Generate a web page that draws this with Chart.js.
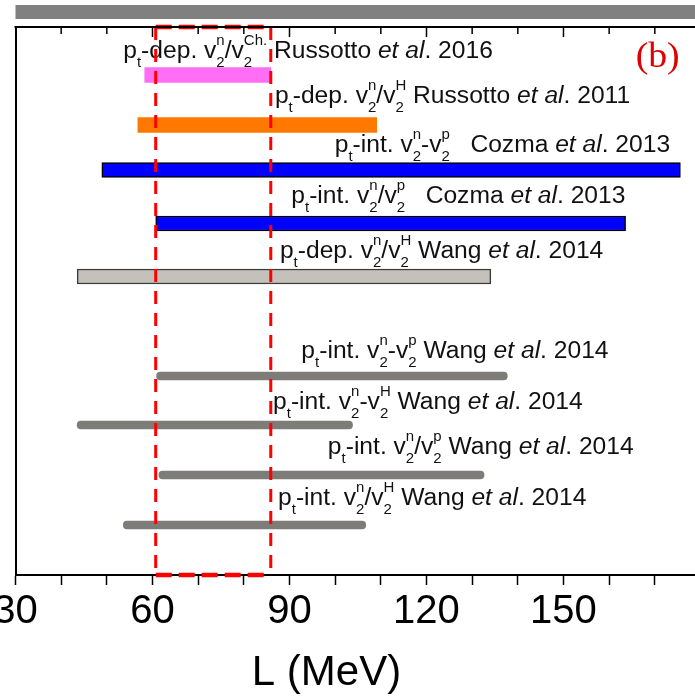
<!DOCTYPE html>
<html lang="en">
<head>
  <meta charset="UTF-8">
  <title>L (MeV) constraints</title>
  <script src="https://cdn.jsdelivr.net/npm/chart.js"></script>
  <style>
    body {
      margin: 0;
      background: #fff;
    }
    .wrap {
      width: 695px;
      height: 697px;
    }
  </style>
</head>
<body>
  <div class="wrap"><canvas id="chart"></canvas></div>

  <script>
    // thick bands, one per row (L in MeV)
    const bandRows = [1, 2, 2.9, 3.97, 5.03];
    const bandLow = [58.3, 56.8, 48.9, 60.7, 43.5];
    const bandHigh = [85.9, 109.1, 175.6, 163.6, 134.1];
    // thin grey bars (Wang et al. 2014)
    const barRows = [7.02, 8, 9, 10];
    const barLow = [60.9, 43.5, 61.4, 53.6];
    const barHigh = [137.7, 103.8, 132.6, 106.7];
    // red dashed box
    const boxLow = 60.7;
    const boxHigh = 85.9;
    const xTicks = [30, 60, 90, 120, 150];

    // label text, one entry per row
    const kinds = ['dep', 'dep', 'int', 'int', 'dep', 'int', 'int', 'int', 'int'];
    const ops = ['/', '/', '-', '/', '/', '-', '-', '/', '/'];
    const refs = ['Ch.', 'H', 'p', 'p', 'H', 'p', 'H', 'p', 'H'];
    const authors = ['Russotto', 'Russotto', 'Cozma', 'Cozma', 'Wang', 'Wang', 'Wang', 'Wang', 'Wang'];
    const years = ['2016', '2011', '2013', '2013', '2014', '2014', '2014', '2014', '2014'];

    // where the labels sit (axis units), kept apart from the data
    const labelAtX = [53.6, 86.8, 99.9, 90.4, 87.9, 92.6, 86.4, 98.4, 87.5];
    const labelAtY = [0.654, 1.566, 2.534, 3.56, 4.654, 6.666, 7.686, 8.58, 9.6];
    const labelGap = [' ', ' ', '   ', '   ', ' ', ' ', ' ', ' ', ' '];

    const yMin = 0.04, yMax = 11;
    const xMin = 30, xMax = 178.8;

    const MAIN = '23px "Liberation Sans"';
    const SCRIPT = '14px "Liberation Sans"';
    const STRETCH = 1.07;

    function drawLabel(ctx, x, y, i) {
      const segs = [
        { t: 'p' }, { sub: 't' }, { t: '-' + kinds[i] + '. v' }, { sup: 'n', sub: '2' },
        { t: ops[i] + 'v' }, { sup: refs[i], sub: '2' },
        { t: labelGap[i] + authors[i] + ' ' }, { t: 'et al', italic: true }, { t: '. ' + years[i] }
      ];
      ctx.save();
      ctx.translate(x, y);
      ctx.scale(STRETCH, 1);
      ctx.fillStyle = '#111';
      ctx.textAlign = 'left';
      ctx.textBaseline = 'alphabetic';
      let cx = 0;
      segs.forEach(s => {
        if (s.t !== undefined) {
          ctx.font = (s.italic ? 'italic ' : '') + MAIN;
          ctx.fillText(s.t, cx, 0);
          cx += ctx.measureText(s.t).width;
        } else {
          ctx.font = SCRIPT;
          let w = 0;
          if (s.sup) {
            ctx.fillText(s.sup, cx, -13);
            w = ctx.measureText(s.sup).width;
          }
          if (s.sub) {
            ctx.fillText(s.sub, cx, 9);
            w = Math.max(w, ctx.measureText(s.sub).width);
          }
          cx += w;
        }
      });
      ctx.restore();
    }

    const decor = {
      id: 'decor',
      beforeDraw(chart) {
        const { ctx, chartArea } = chart;
        // grey strip left over from the panel above
        ctx.save();
        ctx.fillStyle = '#808080';
        ctx.fillRect(chartArea.left, chartArea.top - 22, chart.width - chartArea.left, 14);
        ctx.restore();
      },
      beforeDatasetsDraw(chart) {
        const { ctx } = chart;
        const xs = chart.scales.x, ys = chart.scales.y;
        kinds.forEach((k, i) => {
          drawLabel(ctx, xs.getPixelForValue(labelAtX[i]), ys.getPixelForValue(labelAtY[i]), i);
        });
        // panel tag
        ctx.save();
        ctx.translate(xs.getPixelForValue(165.8), ys.getPixelForValue(0.834));
        ctx.scale(1.05, 1);
        ctx.font = '36px "Liberation Serif"';
        ctx.fillStyle = '#e00000';
        ctx.textBaseline = 'alphabetic';
        ctx.fillText('(b)', 0, 0);
        ctx.restore();
        // axis title
        ctx.save();
        ctx.font = '42px "Liberation Sans"';
        ctx.fillStyle = '#000';
        ctx.textAlign = 'center';
        ctx.textBaseline = 'alphabetic';
        ctx.fillText('L (MeV)', xs.getPixelForValue(98.1), chart.height - 12);
        ctx.restore();
      },
      afterDraw(chart) {
        const { ctx, chartArea } = chart;
        const xs = chart.scales.x;
        ctx.save();
        ctx.strokeStyle = '#000';
        ctx.lineWidth = 2;
        ctx.beginPath();
        ctx.moveTo(chartArea.left - 1, chartArea.top);
        ctx.lineTo(chartArea.right, chartArea.top);
        ctx.stroke();
        ctx.lineWidth = 1.5;
        for (let v = xMin + 10; v < xMax; v += 10) {
          const px = xs.getPixelForValue(v);
          const len = v % 30 === 0 ? 10 : 7;
          ctx.beginPath();
          ctx.moveTo(px, chartArea.top);
          ctx.lineTo(px, chartArea.top + len);
          ctx.stroke();
        }
        ctx.restore();
      }
    };

    document.addEventListener('DOMContentLoaded', function() {
      const ctx = document.getElementById('chart').getContext('2d');

      new Chart(ctx, {
        type: 'bar',
        data: {
          datasets: [
            {
              type: 'line',
              order: 0,
              data: [
                { x: boxLow, y: yMin }, { x: boxLow, y: yMax }, { x: null, y: null },
                { x: boxHigh, y: yMin }, { x: boxHigh, y: yMax }
              ],
              borderColor: '#ff0000',
              borderWidth: 3,
              borderDash: [13, 9],
              pointRadius: 0,
              clip: false
            },
            {
              type: 'line',
              order: 0,
              data: [
                { x: boxLow, y: yMin }, { x: boxHigh, y: yMin }, { x: null, y: null },
                { x: boxLow, y: yMax }, { x: boxHigh, y: yMax }
              ],
              borderColor: '#ff0000',
              borderWidth: 4.5,
              borderDash: [16, 7],
              pointRadius: 0,
              clip: false
            },
            {
              order: 1,
              data: bandRows.map((r, i) => ({ x: [bandLow[i], bandHigh[i]], y: r })),
              backgroundColor: ['#ff6ef5', '#ff7800', '#0000ff', '#0000ff', '#c4c1bb'],
              borderColor: ['#ff6ef5', '#ff7800', '#000', '#000', '#3a3a3a'],
              borderWidth: [0, 0, 1.5, 1.5, 1.5],
              borderSkipped: false,
              barThickness: 15,
              grouped: false
            },
            {
              order: 1,
              data: barRows.map((r, i) => ({ x: [barLow[i], barHigh[i]], y: r })),
              backgroundColor: '#7d7c78',
              borderWidth: 0,
              borderRadius: 4,
              borderSkipped: false,
              barThickness: 8,
              grouped: false
            }
          ]
        },
        options: {
          indexAxis: 'y',
          responsive: true,
          maintainAspectRatio: false,
          animation: false,
          layout: {
            padding: { left: 15.5, top: 27, right: 0, bottom: 0 }
          },
          plugins: {
            legend: { display: false },
            tooltip: { enabled: false }
          },
          scales: {
            x: {
              type: 'linear',
              position: 'bottom',
              min: xMin,
              max: xMax,
              offset: false,
              grid: {
                drawOnChartArea: false,
                drawTicks: true,
                tickLength: 10,
                tickWidth: 1.5,
                tickColor: '#000'
              },
              border: { display: true, color: '#000', width: 2 },
              ticks: {
                stepSize: 10,
                autoSkip: false,
                maxRotation: 0,
                includeBounds: false,
                padding: 3,
                color: '#000',
                font: { family: 'Liberation Sans', size: 40 },
                callback: function(value) {
                  return xTicks.includes(value) ? String(value) : '';
                }
              },
              afterFit: function(s) {
                s.paddingLeft = 0;
                s.paddingRight = 0;
                s.height = 122;
              }
            },
            y: {
              type: 'linear',
              min: yMin,
              max: yMax,
              reverse: true,
              offset: false,
              grid: { display: false },
              border: { display: true, color: '#000', width: 2 },
              ticks: { display: false },
              afterFit: function(s) {
                s.width = 0;
              }
            }
          }
        },
        plugins: [decor]
      });
    });
  </script>
</body>
</html>
